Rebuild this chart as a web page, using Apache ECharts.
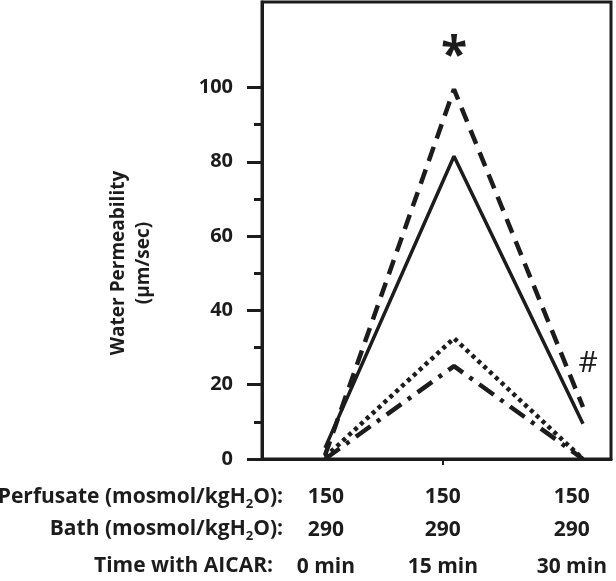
<!DOCTYPE html>
<html>
<head>
<meta charset="utf-8">
<script src="https://cdn.jsdelivr.net/npm/echarts@6/dist/echarts.min.js"></script>
<style>html,body{margin:0;padding:0;background:#fff;}#c{width:616px;height:581px;}</style>
</head>
<body>
<div id="c"></div>
<script>
// ---- data ----
const timePoints = [0, 15, 30];
const timeLabels = ['0 min', '15 min', '30 min'];
const perfusate = ['150', '150', '150'];
const bath = ['290', '290', '290'];
const solidSeries = [3, 81.5, 9.5];
const dashedSeries = [1, 99.5, 14];
const dottedSeries = [0.5, 32.5, 0];
const dashDotSeries = [0, 25, 0];
const yMajorTicks = [0, 20, 40, 60, 80, 100];
const yMinorTicks = [10, 30, 50, 70, 90];
const starMark = [15, 108, '*'];
const hashMark = [30.6, 25.6, '#'];

// layout: where the row texts under each time point are anchored (x-axis units)
const labelAnchors = [0.1, 13.7, 28.7];

const FONT = '"Open Sans", "Liberation Sans", sans-serif';
const INK = '#1c1c1c';

function pairs(ys) { return timePoints.map((t, i) => [t, ys[i]]); }

const chart = echarts.init(document.getElementById('c'));
const lineBase = { type: 'line', symbol: 'none', silent: true, animation: false, z: 3 };

chart.setOption({
  animation: false,
  grid: { left: 262, right: 5, top: 2, bottom: 122, show: true, borderColor: INK, borderWidth: 3, containLabel: false },
  xAxis: {
    type: 'value', min: -7.33, max: 33.26,
    splitLine: { show: false },
    axisLine: { show: true, onZero: false, lineStyle: { color: INK, width: 3 } },
    axisTick: { show: true, customValues: [labelAnchors[1]], length: 6, lineStyle: { color: INK, width: 2 } },
    axisLabel: {
      show: true, customValues: labelAnchors, margin: 22, verticalAlign: 'top',
      formatter: function (v) {
        const i = labelAnchors.indexOf(v);
        return '{a|' + perfusate[i] + '}\n{a|' + bath[i] + '}\n{b|' + timeLabels[i] + '}';
      },
      rich: {
        a: { fontFamily: FONT, fontWeight: 'bold', fontSize: 21, lineHeight: 32.5, color: INK },
        b: { fontFamily: FONT, fontWeight: 'bold', fontSize: 21, lineHeight: 41.5, color: INK }
      }
    }
  },
  yAxis: [
    {
      type: 'value', min: 0, max: 123,
      splitLine: { show: false },
      axisLine: { show: true, onZero: false, lineStyle: { color: INK, width: 3 } },
      axisTick: { show: true, customValues: yMajorTicks, length: 15, lineStyle: { color: INK, width: 3 } },
      axisLabel: { customValues: yMajorTicks, margin: 29, fontFamily: FONT, fontWeight: 'bold', fontSize: 20, color: INK }
    },
    {
      type: 'value', min: 0, max: 123, position: 'left',
      splitLine: { show: false },
      axisLine: { show: false, onZero: false },
      axisTick: { show: true, customValues: yMinorTicks, length: 8, lineStyle: { color: INK, width: 3 } },
      axisLabel: { show: false }
    }
  ],
  series: [
    Object.assign({}, lineBase, { name: 'solid', data: pairs(solidSeries), lineStyle: { color: INK, width: 3.5, type: 'solid' } }),
    Object.assign({}, lineBase, {
      name: 'dashed', data: pairs(dashedSeries), lineStyle: { color: INK, width: 4.5, type: [15, 9] },
      markPoint: {
        symbol: 'circle', symbolSize: 0, silent: true,
        label: { show: true, position: 'inside', formatter: p => p.data.value, fontFamily: FONT, fontWeight: 'bold', fontSize: 48, color: INK },
        data: [{ coord: [starMark[0], starMark[1]], value: starMark[2] }]
      }
    }),
    Object.assign({}, lineBase, {
      name: 'dotted', data: pairs(dottedSeries), lineStyle: { color: INK, width: 4.5, type: [4, 4] },
      markPoint: {
        symbol: 'circle', symbolSize: 0, silent: true,
        label: { show: true, position: 'inside', formatter: p => p.data.value, fontFamily: FONT, fontWeight: 'normal', fontSize: 30, color: INK },
        data: [{ coord: [hashMark[0], hashMark[1]], value: hashMark[2] }]
      }
    }),
    Object.assign({}, lineBase, { name: 'dashdot', data: pairs(dashDotSeries), lineStyle: { color: INK, width: 4.5, type: [18, 8, 4, 8] } })
  ],
  graphic: [
    {
      type: 'text', rotation: Math.PI / 2, x: 131, y: 263, silent: true,
      style: { text: 'Water Permeability\n(µm/sec)', align: 'center', verticalAlign: 'middle', font: 'bold 19px ' + FONT, lineHeight: 25, fill: INK }
    },
    {
      type: 'text', x: 283, y: 497, silent: true,
      style: {
        text: '{t|Perfusate (mosmol/kgH}{s|2}{t|O):}', align: 'right', verticalAlign: 'middle',
        rich: {
          t: { fontFamily: FONT, fontWeight: 'bold', fontSize: 21, lineHeight: 28, fill: INK, verticalAlign: 'middle' },
          s: { fontFamily: FONT, fontWeight: 'bold', fontSize: 13, lineHeight: 28, fill: INK, verticalAlign: 'bottom' }
        }
      }
    },
    {
      type: 'text', x: 283, y: 529, silent: true,
      style: {
        text: '{t|Bath (mosmol/kgH}{s|2}{t|O):}', align: 'right', verticalAlign: 'middle',
        rich: {
          t: { fontFamily: FONT, fontWeight: 'bold', fontSize: 21, lineHeight: 28, fill: INK, verticalAlign: 'middle' },
          s: { fontFamily: FONT, fontWeight: 'bold', fontSize: 13, lineHeight: 28, fill: INK, verticalAlign: 'bottom' }
        }
      }
    },
    {
      type: 'text', x: 273, y: 566, silent: true,
      style: { text: 'Time with AICAR:', align: 'right', verticalAlign: 'middle', font: 'bold 21px ' + FONT, fill: INK }
    }
  ]
});
</script>
</body>
</html>
